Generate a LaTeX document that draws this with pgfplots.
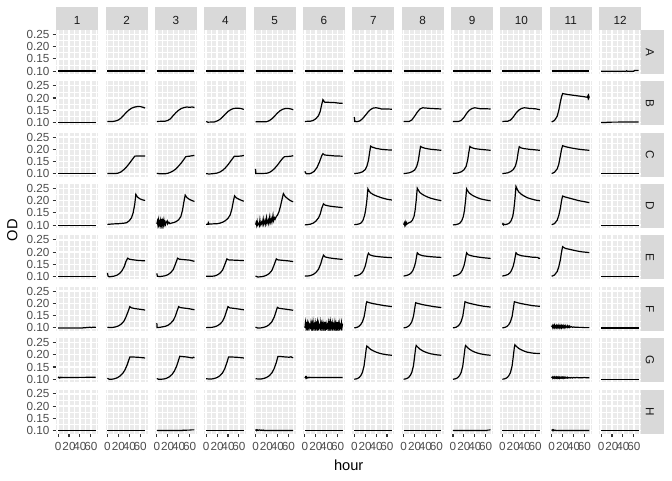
\documentclass[border=0pt]{standalone}
\usepackage{pgfplots}
\pgfplotsset{compat=1.18}
\usepackage{fontspec}
\setmainfont{Liberation Sans}
\definecolor{panelbg}{HTML}{EBEBEB}
\definecolor{stripbg}{HTML}{D9D9D9}
\definecolor{gray30}{HTML}{4D4D4D}
\definecolor{gray20}{HTML}{333333}
\definecolor{gray10}{HTML}{1A1A1A}
\pgfplotsset{
  panel/.style={
    scale only axis, width=31.5pt, height=33pt, anchor=north west,
    xmin=-3.5, xmax=73.5, ymin=0.088, ymax=0.268,
    axis background/.style={fill=panelbg},
    axis line style={draw=none},
    xtick={0,20,40,60}, minor xtick={10,30,50,70},
    ytick={0.10,0.15,0.20,0.25}, minor ytick={0.125,0.175,0.225},
    grid=both,
    major grid style={draw=white, line width=1.07pt},
    minor grid style={draw=white, line width=0.53pt},
    xticklabels={}, yticklabels={},
    tick pos=left, tick align=outside,
    major tick length=2.75pt, minor tick length=0pt,
    xtick style={draw=none}, ytick style={draw=none},
    tick label style={font=\fontsize{8.8}{10}\selectfont, text=gray30},
    yticklabel style={xshift=1.2pt},
    /pgf/number format/assume math mode=true,
  },
  c1/.style={yticklabels={0.10,0.15,0.20,0.25}, ytick style={draw=gray20, line width=0.8pt}},
  c2/.style={},c3/.style={},c4/.style={},c5/.style={},c6/.style={},c7/.style={},
  c8/.style={},c9/.style={},c10/.style={},c11/.style={},c12/.style={},
  r1/.style={},r2/.style={},r3/.style={},r4/.style={},r5/.style={},r6/.style={},r7/.style={},
  r8/.style={xticklabels={0,20,40,60}, xtick style={draw=gray20, line width=0.8pt}},
}
\newcommand{\panel}[3]{%
  \pgfmathsetmacro\px{(56.2+(#1-1)*49.36)*0.75}%
  \pgfmathsetmacro\py{(450-(#2-1)*51.36)*0.75}%
  \begin{axis}[panel, c#1, r#2, at={(\px pt,\py pt)}]
    \addplot[black, line width=0.9pt, mark=none] coordinates {#3};
  \end{axis}%
}
\begin{document}
\begin{tikzpicture}
\useasboundingbox (0,0) rectangle (504pt,360pt);
% Row A
\panel{1}{1}{(0,0.1)(69,0.1)}
\panel{2}{1}{(0,0.1)(69,0.1)}
\panel{3}{1}{(0,0.1)(69,0.1)}
\panel{4}{1}{(0,0.1)(69,0.1)}
\panel{5}{1}{(0,0.1)(69,0.1)}
\panel{6}{1}{(0,0.1)(69,0.1)}
\panel{7}{1}{(0,0.1)(69,0.1)}
\panel{8}{1}{(0,0.1)(69,0.1)}
\panel{9}{1}{(0,0.1)(69,0.1)}
\panel{10}{1}{(0,0.1)(69,0.1)}
\panel{11}{1}{(0,0.1)(69,0.1)}
\panel{12}{1}{(0,0.0995)(46,0.0995)(47,0.101)(48,0.0995)(60,0.0995)(61,0.102)(69,0.102)}
% Row B
\panel{1}{2}{(0,0.1)(69,0.1)}
\panel{2}{2}{(0,0.104)(10,0.104)(15,0.106)(20,0.11)(25,0.118)(30,0.13)(35,0.142)(40,0.152)(45,0.159)(50,0.163)(55,0.165)(60,0.165)(65,0.162)(69,0.159)}
\panel{3}{2}{(0,0.104)(15,0.105)(20,0.108)(25,0.115)(30,0.128)(35,0.14)(40,0.15)(45,0.157)(50,0.161)(55,0.163)(60,0.162)(65,0.163)(69,0.161)}
\panel{4}{2}{(0,0.104)(3,0.101)(15,0.102)(20,0.106)(25,0.112)(30,0.122)(35,0.134)(40,0.145)(45,0.152)(50,0.157)(55,0.158)(60,0.158)(65,0.156)(69,0.153)}
\panel{5}{2}{(0,0.103)(20,0.103)(25,0.107)(30,0.115)(35,0.126)(40,0.138)(45,0.148)(50,0.154)(55,0.157)(60,0.157)(65,0.155)(69,0.152)}
\panel{6}{2}{(0,0.104)(10,0.105)(15,0.108)(20,0.115)(25,0.128)(28,0.145)(31,0.175)(33,0.193)(36,0.183)(45,0.182)(55,0.181)(62,0.179)(69,0.178)}
\panel{7}{2}{(0,0.122)(1,0.104)(5,0.103)(10,0.106)(15,0.115)(20,0.128)(25,0.142)(30,0.153)(35,0.159)(40,0.16)(45,0.158)(50,0.155)(60,0.155)(69,0.154)}
\panel{8}{2}{(0,0.104)(10,0.104)(15,0.11)(20,0.125)(25,0.142)(30,0.155)(35,0.16)(40,0.159)(50,0.157)(60,0.156)(69,0.155)}
\panel{9}{2}{(0,0.104)(10,0.104)(15,0.108)(20,0.12)(25,0.137)(30,0.15)(35,0.157)(40,0.16)(45,0.158)(50,0.156)(60,0.156)(69,0.155)}
\panel{10}{2}{(0,0.104)(10,0.105)(15,0.11)(20,0.122)(25,0.138)(30,0.15)(35,0.157)(40,0.16)(45,0.159)(50,0.157)(60,0.156)(69,0.152)}
\panel{11}{2}{(0,0.102)(5,0.108)(10,0.125)(13,0.15)(16,0.185)(18,0.205)(20,0.218)(25,0.216)(30,0.214)(40,0.211)(50,0.208)(60,0.205)(65,0.203)(66,0.207)(66.5,0.202)(67,0.207)(67.5,0.202)(68,0.207)(68.5,0.203)(69,0.206)}
\panel{12}{2}{(0,0.0995)(10,0.0995)(11,0.101)(69,0.102)}
% Row C
\panel{1}{3}{(0,0.1)(69,0.1)}
\panel{2}{3}{(0,0.101)(15,0.101)(20,0.103)(25,0.108)(30,0.117)(35,0.128)(40,0.142)(45,0.157)(50,0.172)(55,0.173)(69,0.173)}
\panel{3}{3}{(0,0.102)(5,0.1)(15,0.1)(20,0.102)(25,0.106)(30,0.112)(35,0.12)(40,0.132)(45,0.145)(50,0.16)(53,0.17)(55,0.171)(60,0.172)(65,0.174)(69,0.175)}
\panel{4}{3}{(0,0.101)(5,0.099)(15,0.101)(20,0.103)(25,0.107)(30,0.114)(35,0.124)(40,0.137)(45,0.152)(50,0.167)(52,0.172)(60,0.172)(65,0.173)(69,0.175)}
\panel{5}{3}{(0,0.12)(0.5,0.101)(10,0.101)(20,0.102)(25,0.105)(30,0.112)(35,0.122)(40,0.135)(45,0.15)(50,0.164)(53,0.17)(60,0.171)(65,0.172)(69,0.174)}
\panel{6}{3}{(0,0.11)(1,0.104)(3,0.1)(8,0.1)(12,0.103)(17,0.11)(22,0.125)(27,0.15)(31,0.175)(33,0.182)(36,0.177)(45,0.175)(55,0.173)(69,0.172)}
\panel{7}{3}{(0,0.101)(5,0.102)(10,0.104)(15,0.108)(20,0.117)(23,0.13)(26,0.155)(28,0.185)(30,0.213)(33,0.209)(40,0.204)(50,0.2)(60,0.198)(69,0.197)}
\panel{8}{3}{(0,0.101)(5,0.102)(10,0.104)(15,0.108)(20,0.115)(24,0.13)(27,0.155)(29,0.185)(31,0.212)(34,0.208)(40,0.204)(50,0.2)(60,0.198)(69,0.196)}
\panel{9}{3}{(0,0.102)(5,0.102)(10,0.104)(15,0.108)(20,0.116)(24,0.13)(27,0.157)(29,0.187)(31,0.212)(34,0.207)(40,0.203)(50,0.2)(60,0.198)(69,0.196)}
\panel{10}{3}{(0,0.101)(5,0.102)(10,0.104)(15,0.109)(20,0.117)(24,0.132)(27,0.158)(29,0.188)(31,0.211)(34,0.206)(40,0.203)(50,0.2)(60,0.198)(69,0.196)}
\panel{11}{3}{(0,0.101)(5,0.106)(10,0.12)(13,0.14)(16,0.175)(18,0.2)(20,0.215)(25,0.211)(35,0.206)(45,0.202)(55,0.199)(69,0.196)}
\panel{12}{3}{(0,0.1)(69,0.1)}
% Row D
\panel{1}{4}{(0,0.1)(69,0.1)}
\panel{2}{4}{(0,0.103)(10,0.105)(20,0.106)(30,0.108)(35,0.11)(40,0.118)(44,0.13)(47,0.15)(50,0.185)(52,0.226)(55,0.215)(60,0.207)(65,0.203)(69,0.201)}
\panel{3}{4}{(0,0.105)(1,0.115)(2,0.1)(3,0.12)(4,0.103)(5,0.112)(6,0.098)(7,0.118)(8,0.104)(9,0.125)(10,0.1)(11,0.115)(12,0.102)(13,0.12)(14,0.105)(15,0.113)(16,0.103)(17,0.11)(19,0.117)(20,0.105)(22,0.112)(24,0.106)(26,0.108)(30,0.11)(35,0.114)(40,0.122)(44,0.135)(47,0.16)(50,0.2)(52,0.223)(55,0.213)(60,0.205)(65,0.2)(69,0.197)}
\panel{4}{4}{(0,0.103)(3,0.104)(4,0.11)(5,0.104)(10,0.105)(20,0.106)(25,0.108)(30,0.112)(35,0.118)(40,0.128)(44,0.142)(47,0.165)(50,0.2)(52,0.22)(55,0.212)(60,0.206)(65,0.201)(69,0.198)}
\panel{5}{4}{(0,0.102)(1,0.11)(2,0.1)(3,0.115)(4,0.101)(6,0.108)(7,0.1)(8,0.12)(9,0.102)(11,0.112)(12,0.103)(14,0.125)(15,0.104)(17,0.118)(18,0.105)(20,0.13)(21,0.107)(23,0.12)(24,0.108)(26,0.135)(27,0.11)(29,0.125)(30,0.113)(32,0.14)(33,0.118)(35,0.13)(36,0.125)(38,0.135)(40,0.14)(43,0.155)(46,0.18)(49,0.21)(51,0.229)(54,0.218)(58,0.21)(62,0.203)(66,0.198)(69,0.196)}
\panel{6}{4}{(0,0.101)(5,0.102)(10,0.104)(15,0.108)(20,0.116)(25,0.13)(28,0.145)(31,0.17)(34,0.187)(37,0.182)(45,0.178)(55,0.175)(69,0.172)}
\panel{7}{4}{(0,0.102)(5,0.103)(10,0.106)(13,0.11)(16,0.12)(19,0.14)(21,0.165)(23,0.2)(25,0.248)(27,0.24)(30,0.232)(35,0.225)(40,0.22)(45,0.216)(50,0.212)(55,0.209)(60,0.206)(65,0.204)(69,0.203)}
\panel{8}{4}{(0,0.102)(1,0.108)(2,0.1)(3,0.112)(4,0.103)(5,0.11)(6,0.104)(8,0.108)(10,0.11)(13,0.113)(16,0.12)(19,0.135)(21,0.16)(23,0.2)(25,0.251)(27,0.243)(30,0.233)(35,0.225)(40,0.219)(45,0.214)(50,0.21)(55,0.207)(60,0.204)(65,0.202)(69,0.2)}
\panel{9}{4}{(0,0.101)(5,0.102)(10,0.105)(13,0.109)(16,0.118)(19,0.135)(21,0.16)(23,0.2)(25,0.248)(27,0.24)(30,0.231)(35,0.223)(40,0.217)(45,0.212)(50,0.208)(55,0.205)(60,0.203)(65,0.201)(69,0.2)}
\panel{10}{4}{(0,0.102)(1,0.106)(2,0.101)(3,0.104)(5,0.102)(10,0.105)(13,0.109)(16,0.118)(19,0.135)(21,0.162)(23,0.205)(25,0.258)(27,0.248)(30,0.236)(35,0.226)(40,0.219)(45,0.213)(50,0.209)(55,0.206)(60,0.203)(65,0.201)(69,0.2)}
\panel{11}{4}{(0,0.102)(5,0.106)(10,0.12)(13,0.14)(16,0.17)(18,0.2)(20,0.219)(25,0.215)(30,0.212)(40,0.206)(50,0.2)(60,0.196)(69,0.192)}
\panel{12}{4}{(0,0.0997)(69,0.0997)}
% Row E
\panel{1}{5}{(0,0.1)(69,0.1)}
\panel{2}{5}{(0,0.115)(1,0.102)(3,0.099)(8,0.1)(13,0.102)(18,0.106)(23,0.114)(27,0.125)(31,0.142)(34,0.162)(37,0.175)(40,0.171)(45,0.169)(55,0.166)(69,0.164)}
\panel{3}{5}{(0,0.113)(1,0.101)(5,0.1)(10,0.101)(15,0.103)(20,0.107)(25,0.115)(30,0.128)(34,0.15)(38,0.175)(41,0.171)(50,0.169)(60,0.167)(69,0.162)}
\panel{4}{5}{(0,0.101)(10,0.101)(15,0.102)(20,0.106)(25,0.113)(30,0.126)(34,0.148)(38,0.172)(41,0.168)(50,0.167)(60,0.166)(69,0.165)}
\panel{5}{5}{(0,0.102)(4,0.098)(10,0.099)(15,0.101)(20,0.105)(25,0.112)(30,0.125)(34,0.147)(38,0.172)(41,0.168)(50,0.166)(60,0.164)(69,0.161)}
\panel{6}{5}{(0,0.102)(5,0.102)(10,0.104)(15,0.108)(20,0.116)(25,0.13)(29,0.152)(32,0.175)(34,0.187)(37,0.18)(45,0.176)(55,0.173)(69,0.17)}
\panel{7}{5}{(0,0.102)(5,0.104)(10,0.108)(14,0.115)(17,0.125)(20,0.142)(22,0.16)(24,0.182)(26,0.195)(29,0.188)(35,0.184)(45,0.181)(55,0.179)(69,0.177)}
\panel{8}{5}{(0,0.102)(5,0.104)(10,0.108)(14,0.115)(17,0.125)(20,0.142)(22,0.16)(24,0.185)(25,0.197)(28,0.19)(35,0.185)(45,0.182)(55,0.18)(69,0.178)}
\panel{9}{5}{(0,0.102)(5,0.104)(10,0.108)(14,0.115)(17,0.126)(20,0.143)(22,0.162)(24,0.186)(25,0.197)(28,0.189)(35,0.184)(45,0.18)(55,0.177)(69,0.174)}
\panel{10}{5}{(0,0.102)(5,0.104)(10,0.108)(14,0.115)(17,0.126)(20,0.143)(22,0.162)(24,0.186)(25,0.197)(28,0.19)(35,0.185)(45,0.182)(55,0.179)(65,0.178)(67,0.174)(69,0.175)}
\panel{11}{5}{(0,0.101)(5,0.106)(10,0.12)(13,0.14)(16,0.17)(18,0.2)(20,0.222)(25,0.215)(35,0.21)(45,0.205)(55,0.201)(69,0.198)}
\panel{12}{5}{(0,0.0995)(69,0.0995)}
% Row F
\panel{1}{6}{(0,0.0995)(45,0.0995)(47,0.101)(50,0.1)(52,0.102)(55,0.101)(58,0.103)(61,0.101)(64,0.103)(67,0.102)(69,0.103)}
\panel{2}{6}{(0,0.103)(3,0.101)(10,0.102)(15,0.104)(20,0.108)(25,0.115)(30,0.127)(34,0.145)(38,0.168)(41,0.187)(44,0.182)(50,0.179)(60,0.176)(69,0.173)}
\panel{3}{6}{(0,0.12)(0.5,0.101)(5,0.102)(10,0.104)(15,0.106)(20,0.11)(25,0.118)(30,0.13)(34,0.148)(37,0.168)(40,0.187)(43,0.183)(50,0.181)(60,0.178)(69,0.174)}
\panel{4}{6}{(0,0.101)(10,0.102)(15,0.104)(20,0.108)(25,0.115)(30,0.127)(34,0.146)(37,0.167)(40,0.187)(43,0.182)(50,0.18)(60,0.177)(69,0.174)}
\panel{5}{6}{(0,0.103)(4,0.099)(10,0.1)(15,0.102)(20,0.106)(25,0.113)(30,0.125)(34,0.143)(37,0.163)(40,0.184)(43,0.18)(50,0.178)(60,0.175)(69,0.172)}
\panel{6}{6}{(0,0.1)(1,0.121)(2,0.101)(3,0.113)(4,0.099)(5,0.118)(6,0.102)(7,0.115)(8,0.1)(9,0.11)(10,0.103)(11,0.12)(12,0.101)(13,0.116)(14,0.1)(15,0.123)(16,0.102)(17,0.112)(18,0.099)(19,0.119)(20,0.101)(21,0.114)(22,0.1)(23,0.122)(24,0.102)(25,0.117)(26,0.1)(27,0.109)(28,0.101)(29,0.121)(30,0.099)(31,0.115)(32,0.102)(33,0.118)(34,0.1)(35,0.113)(36,0.101)(37,0.124)(38,0.1)(39,0.116)(40,0.102)(41,0.111)(42,0.1)(43,0.12)(44,0.101)(45,0.117)(46,0.099)(47,0.122)(48,0.102)(49,0.114)(50,0.1)(51,0.119)(52,0.101)(53,0.112)(54,0.1)(55,0.121)(56,0.102)(57,0.116)(58,0.1)(59,0.123)(60,0.101)(61,0.115)(62,0.099)(63,0.118)(64,0.101)(65,0.11)(66,0.1)(67,0.12)(68,0.102)(69,0.117)}
\panel{7}{6}{(0,0.1)(3,0.101)(6,0.103)(9,0.107)(12,0.114)(15,0.125)(18,0.145)(20,0.17)(22,0.2)(23,0.207)(26,0.204)(35,0.199)(45,0.195)(55,0.191)(69,0.187)}
\panel{8}{6}{(0,0.1)(3,0.101)(6,0.103)(9,0.107)(12,0.114)(15,0.125)(18,0.147)(20,0.175)(22,0.203)(26,0.2)(35,0.195)(45,0.191)(55,0.187)(69,0.183)}
\panel{9}{6}{(0,0.1)(3,0.101)(6,0.103)(9,0.107)(12,0.114)(15,0.126)(18,0.148)(20,0.177)(22,0.207)(26,0.203)(35,0.198)(45,0.193)(55,0.189)(69,0.185)}
\panel{10}{6}{(0,0.1)(3,0.101)(6,0.103)(9,0.107)(12,0.114)(15,0.126)(18,0.148)(20,0.177)(22,0.207)(26,0.204)(35,0.199)(45,0.195)(55,0.191)(69,0.188)}
\panel{11}{6}{(0,0.103)(1,0.109)(2,0.101)(3,0.108)(4,0.102)(5,0.11)(6,0.101)(7,0.107)(8,0.102)(9,0.109)(10,0.101)(11,0.108)(12,0.103)(13,0.11)(14,0.101)(15,0.107)(16,0.102)(17,0.109)(18,0.101)(19,0.108)(20,0.103)(21,0.109)(22,0.102)(23,0.107)(24,0.101)(25,0.108)(26,0.103)(27,0.106)(28,0.102)(29,0.108)(30,0.103)(31,0.106)(32,0.102)(33,0.107)(34,0.103)(36,0.105)(38,0.102)(40,0.104)(43,0.102)(46,0.103)(50,0.102)(55,0.102)(60,0.101)(69,0.101)}
\panel{12}{6}{(0,0.0995)(69,0.0995)}
% Row G
\panel{1}{7}{(0,0.106)(1,0.108)(2,0.105)(4,0.108)(5,0.106)(7,0.108)(8,0.107)(69,0.108)}
\panel{2}{7}{(0,0.104)(3,0.1)(8,0.1)(13,0.102)(18,0.106)(23,0.113)(28,0.124)(32,0.138)(36,0.158)(39,0.178)(41,0.191)(45,0.191)(55,0.19)(60,0.189)(69,0.187)}
\panel{3}{7}{(0,0.103)(3,0.1)(8,0.1)(13,0.101)(18,0.104)(23,0.11)(28,0.12)(32,0.133)(36,0.152)(39,0.172)(42,0.194)(45,0.193)(55,0.191)(60,0.189)(65,0.187)(67,0.19)(69,0.188)}
\panel{4}{7}{(0,0.102)(5,0.101)(10,0.101)(15,0.103)(20,0.107)(25,0.114)(30,0.126)(34,0.143)(38,0.168)(41,0.191)(45,0.191)(55,0.19)(60,0.189)(69,0.187)}
\panel{5}{7}{(0,0.102)(5,0.101)(10,0.101)(15,0.103)(20,0.107)(25,0.114)(30,0.126)(34,0.143)(38,0.168)(41,0.193)(45,0.193)(55,0.191)(62,0.19)(65,0.192)(67,0.189)(69,0.188)}
\panel{6}{7}{(0,0.105)(1,0.109)(2,0.104)(3,0.109)(4,0.105)(6,0.108)(7,0.106)(9,0.108)(10,0.107)(69,0.107)}
\panel{7}{7}{(0,0.1)(3,0.101)(6,0.103)(9,0.107)(12,0.115)(15,0.128)(18,0.155)(20,0.19)(22,0.225)(23,0.236)(26,0.23)(30,0.222)(35,0.216)(40,0.211)(45,0.207)(50,0.204)(55,0.202)(60,0.2)(69,0.198)}
\panel{8}{7}{(0,0.1)(3,0.101)(6,0.103)(9,0.107)(12,0.115)(15,0.128)(18,0.155)(20,0.19)(22,0.227)(23,0.238)(26,0.231)(30,0.223)(35,0.216)(40,0.211)(45,0.207)(50,0.204)(55,0.202)(60,0.2)(69,0.198)}
\panel{9}{7}{(0,0.1)(3,0.101)(6,0.103)(9,0.107)(12,0.115)(15,0.128)(18,0.155)(20,0.19)(22,0.227)(23,0.238)(26,0.231)(30,0.223)(35,0.216)(40,0.211)(45,0.207)(50,0.204)(55,0.202)(60,0.2)(69,0.198)}
\panel{10}{7}{(0,0.1)(3,0.101)(6,0.103)(9,0.107)(12,0.115)(15,0.128)(18,0.156)(20,0.192)(22,0.23)(23,0.241)(26,0.234)(30,0.226)(35,0.22)(40,0.215)(45,0.211)(50,0.209)(55,0.207)(60,0.206)(69,0.205)}
\panel{11}{7}{(0,0.105)(1,0.109)(2,0.104)(3,0.108)(4,0.105)(5,0.109)(6,0.104)(7,0.108)(8,0.105)(9,0.109)(10,0.104)(11,0.108)(12,0.105)(13,0.109)(14,0.104)(15,0.108)(16,0.105)(17,0.108)(18,0.105)(19,0.109)(20,0.105)(21,0.108)(22,0.104)(23,0.108)(24,0.105)(25,0.108)(26,0.105)(27,0.107)(28,0.105)(29,0.108)(30,0.105)(32,0.107)(34,0.105)(36,0.107)(38,0.105)(40,0.107)(43,0.106)(46,0.107)(50,0.106)(55,0.106)(60,0.107)(64,0.106)(69,0.106)}
\panel{12}{7}{(0,0.1)(69,0.1)}
% Row H
\panel{1}{8}{(0,0.0998)(69,0.0998)}
\panel{2}{8}{(0,0.0998)(69,0.0998)}
\panel{3}{8}{(0,0.1)(47,0.1)(48,0.102)(52,0.101)(56,0.102)(60,0.102)(64,0.103)(69,0.103)}
\panel{4}{8}{(0,0.0998)(69,0.0998)}
\panel{5}{8}{(0,0.1)(1,0.103)(2,0.1)(3,0.103)(5,0.101)(7,0.103)(9,0.101)(11,0.102)(13,0.101)(15,0.102)(16,0.1)(69,0.1)}
\panel{6}{8}{(0,0.0998)(69,0.0998)}
\panel{7}{8}{(0,0.0998)(69,0.0998)}
\panel{8}{8}{(0,0.0998)(69,0.0998)}
\panel{9}{8}{(0,0.1)(62,0.1)(63,0.102)(66,0.102)(67,0.103)(69,0.103)}
\panel{10}{8}{(0,0.0998)(69,0.0998)}
\panel{11}{8}{(0,0.1)(1,0.103)(2,0.1)(3,0.103)(4,0.1)(6,0.102)(8,0.1)(69,0.1)}
\panel{12}{8}{(0,0.0998)(69,0.0998)}
% strips
\begin{scope}[x=0.75pt,y=0.75pt]
\foreach \c in {1,...,12} {
  \pgfmathsetmacro\xl{56.2+(\c-1)*49.36}
  \fill[stripbg] (\xl,450) rectangle ++(42,22.7);
  \node[font=\fontsize{8.8}{10}\selectfont, text=gray10, inner sep=0pt] at (\xl+21,459.2) {\c};
}
\foreach \r/\lab in {1/A,2/B,3/C,4/D,5/E,6/F,7/G,8/H} {
  \pgfmathsetmacro\yt{450-(\r-1)*51.36}
  \fill[stripbg] (641.2,\yt) rectangle (663.9,\yt-44);
  \node[font=\fontsize{8.8}{10}\selectfont, text=gray10, inner sep=0pt, rotate=-90] at (650,\yt-22) {\lab};
}
\node[font=\fontsize{11}{13}\selectfont, anchor=base, inner sep=0pt] at (348.7,9.5) {hour};
\node[font=\fontsize{11}{13}\selectfont, rotate=90, inner sep=0pt] at (12.3,250) {OD};
\end{scope}
\end{tikzpicture}
\end{document}
